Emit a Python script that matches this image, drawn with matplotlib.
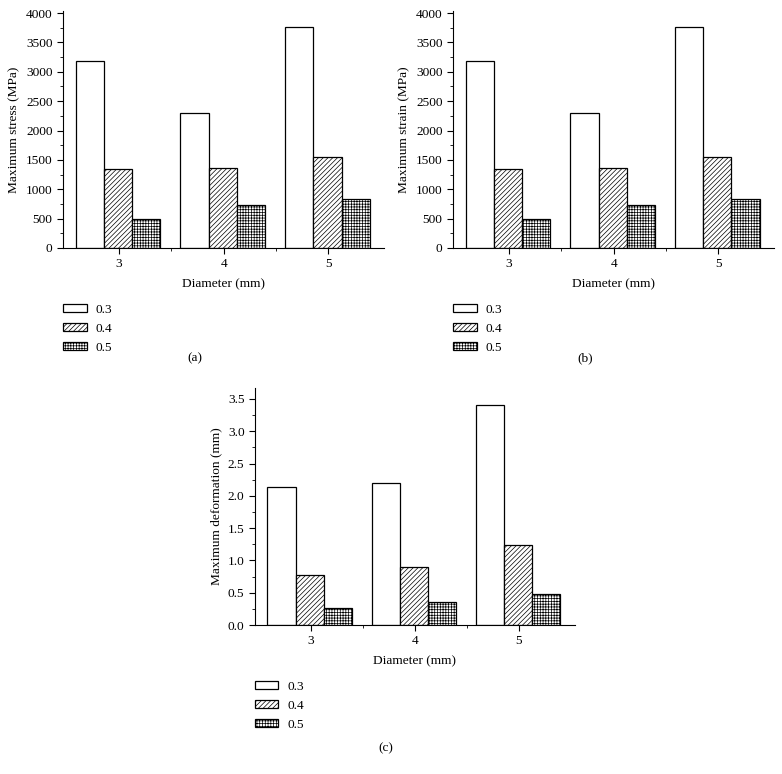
import matplotlib
matplotlib.use("Agg")
import matplotlib.pyplot as plt
from matplotlib.ticker import MultipleLocator, FixedLocator
import numpy as np

diameters = [3, 4, 5]
ratios = ["0.3", "0.4", "0.5"]

stress = [
    [3180, 2290, 3760],  # 0.3
    [1340, 1370, 1550],  # 0.4
    [500, 740, 840],     # 0.5
]
strain = [
    [3180, 2290, 3760],
    [1340, 1370, 1550],
    [500, 740, 840],
]
deformation = [
    [2.14, 2.20, 3.40],
    [0.78, 0.90, 1.24],
    [0.26, 0.36, 0.48],
]

plt.rcParams["font.family"] = ["Liberation Serif", "DejaVu Serif"]
plt.rcParams["font.size"] = 9.6
plt.rcParams["hatch.linewidth"] = 0.5

HATCHES = ["", "///////", "++++++"]
BAR_W = 0.27


def draw_panel(ax, values, ylabel, ymax, major, minor, fmt, tag, tag_y):
    x = np.array(diameters, dtype=float)
    for i, (series, hatch) in enumerate(zip(values, HATCHES)):
        ax.bar(x + (i - 1) * BAR_W - 0.01, series, BAR_W, color="white",
               edgecolor="black", linewidth=0.9, hatch=hatch, label=ratios[i])
    ax.set_xlim(2.465, 5.535)
    ax.set_ylim(0, ymax)
    ax.set_xticks(diameters)
    ax.xaxis.set_minor_locator(FixedLocator([3.5, 4.5]))
    ax.yaxis.set_major_locator(MultipleLocator(major))
    ax.yaxis.set_minor_locator(MultipleLocator(minor))
    ax.yaxis.set_major_formatter(fmt)
    for side in ("top", "right"):
        ax.spines[side].set_visible(False)
    ax.tick_params(which="major", direction="out", length=4, width=0.8)
    ax.tick_params(which="minor", direction="out", length=2, width=0.6)
    ax.set_xlabel("Diameter (mm)", labelpad=6)
    ax.set_ylabel(ylabel, labelpad=4)
    ax.legend(loc="upper left", bbox_to_anchor=(-0.016, -0.213), frameon=False,
              handlelength=1.75, handleheight=0.5, labelspacing=0.52,
              handletextpad=0.65, borderaxespad=0)
    ax.text(0.41, tag_y, tag, transform=ax.transAxes, ha="center", va="center")


fig = plt.figure(figsize=(7.82, 7.74), dpi=100)
ax_a = fig.add_axes([0.0806, 0.6796, 0.411, 0.3062])
ax_b = fig.add_axes([0.5793, 0.6796, 0.411, 0.3062])
ax_c = fig.add_axes([0.326, 0.1925, 0.409, 0.3062])

draw_panel(ax_a, stress, "Maximum stress (MPa)", 4035, 500, 250, "{x:.0f}", "(a)", -0.464)
draw_panel(ax_b, strain, "Maximum strain (MPa)", 4035, 500, 250, "{x:.0f}", "(b)", -0.464)
draw_panel(ax_c, deformation, "Maximum deformation (mm)", 3.67, 0.5, 0.25, "{x:.1f}", "(c)", -0.519)

fig.savefig("out.png", dpi=100)
